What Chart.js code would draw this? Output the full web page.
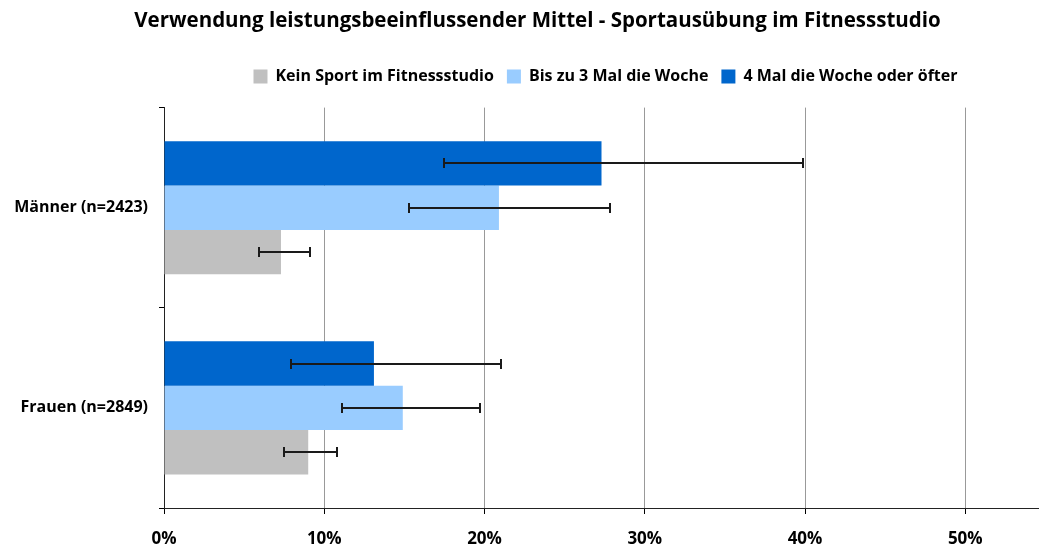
<!DOCTYPE html>
<html>
<head>
<meta charset="utf-8">
<script src="https://cdn.jsdelivr.net/npm/chart.js@4/dist/chart.umd.min.js"></script>
<style>
  html, body { margin: 0; padding: 0; background: #fff; }
  #wrap { width: 1039px; height: 550px; }
</style>
</head>
<body>
<div id="wrap"><canvas id="chart"></canvas></div>
<script>
// Data
const categories = ["Männer (n=2423)", "Frauen (n=2849)"];
const seriesNames = ["Kein Sport im Fitnessstudio", "Bis zu 3 Mal die Woche", "4 Mal die Woche oder öfter"];
const seriesColors = ["#c0c0c0", "#99ccff", "#0066cc"];

const keinSport = [7.3, 9.0];
const keinSportLow = [5.9, 7.5];
const keinSportHigh = [9.1, 10.8];

const bisDrei = [20.9, 14.9];
const bisDreiLow = [15.3, 11.1];
const bisDreiHigh = [27.8, 19.7];

const vierMal = [27.3, 13.1];
const vierMalLow = [17.5, 7.9];
const vierMalHigh = [39.9, 21.0];

const xTicks = [0, 10, 20, 30, 40, 50];

// Error bars drawn from the low/high arrays
const errorBars = {
    id: "errorBars",
    afterDatasetsDraw(chart) {
        const ctx = chart.ctx;
        const x = chart.scales.x;
        ctx.save();
        ctx.strokeStyle = "#1a1a1a";
        ctx.lineWidth = 2;
        chart.data.datasets.forEach(function (ds, i) {
            const meta = chart.getDatasetMeta(i);
            meta.data.forEach(function (bar, j) {
                const x1 = Math.round(x.getPixelForValue(ds.errLow[j]));
                const x2 = Math.round(x.getPixelForValue(ds.errHigh[j]));
                const y = Math.round(bar.y);
                ctx.beginPath();
                ctx.moveTo(x1, y);
                ctx.lineTo(x2, y);
                ctx.moveTo(x1, y - 5);
                ctx.lineTo(x1, y + 5);
                ctx.moveTo(x2, y - 5);
                ctx.lineTo(x2, y + 5);
                ctx.stroke();
            });
        });
        ctx.restore();
    },
};

// title a bit right of centre, legend further right, extra room below legend
const headPlace = {
    id: "headPlace",
    afterInit(chart) {
        const legend = chart.legend;
        const fit = legend.fit;
        legend.fit = function () {
            fit.call(this);
            if (this.isHorizontal()) this.height += 13;
        };
    },
    afterLayout(chart) {
        chart.legend.left += 79;
        chart.legend.right += 79;
        chart.titleBlock.left += 11;
        chart.titleBlock.right += 11;
    },
};

const fontFamily = "'Open Sans', 'Lato', sans-serif";

new Chart(document.getElementById("chart"), {
    type: "bar",
    data: {
        labels: categories,
        datasets: [
            {
                label: seriesNames[2],
                data: vierMal,
                errLow: vierMalLow,
                errHigh: vierMalHigh,
                backgroundColor: seriesColors[2],
            },
            {
                label: seriesNames[1],
                data: bisDrei,
                errLow: bisDreiLow,
                errHigh: bisDreiHigh,
                backgroundColor: seriesColors[1],
            },
            {
                label: seriesNames[0],
                data: keinSport,
                errLow: keinSportLow,
                errHigh: keinSportHigh,
                backgroundColor: seriesColors[0],
            },
        ],
    },
    options: {
        indexAxis: "y",
        responsive: true,
        maintainAspectRatio: false,
        animation: false,
        categoryPercentage: 0.665,
        barPercentage: 1.0,
        layout: { autoPadding: false, padding: { left: 14, right: 0, top: 6, bottom: 0 } },
        plugins: {
            title: {
                display: true,
                text: "Verwendung leistungsbeeinflussender Mittel - Sportausübung im Fitnessstudio",
                color: "#000",
                font: { family: fontFamily, size: 20.5, weight: "bold" },
                padding: { top: 3, bottom: 22 },
            },
            legend: {
                reverse: true,
                labels: {
                    color: "#000",
                    boxWidth: 14,
                    boxHeight: 14,
                    padding: 13,
                    font: { family: fontFamily, size: 16, weight: "bold" },
                },
            },
            tooltip: { enabled: false },
        },
        scales: {
            x: {
                min: 0,
                max: 54.6,
                afterBuildTicks: function (scale) {
                    scale.ticks = xTicks.map(function (v) { return { value: v }; });
                },
                afterFit: function (scale) { scale.height = 42; },
                ticks: {
                    color: "#000",
                    padding: 15,
                    font: { family: fontFamily, size: 17, weight: "bold" },
                    callback: function (v) { return v + "%"; },
                },
                grid: {
                    color: "#999",
                    lineWidth: 1,
                    tickLength: 6,
                    tickColor: "#000",
                },
                border: { color: "#222", width: 1 },
            },
            y: {
                afterFit: function (scale) { scale.width = 150; },
                ticks: {
                    color: "#000",
                    padding: 11,
                    font: { family: fontFamily, size: 16, weight: "bold" },
                },
                grid: {
                    drawOnChartArea: false,
                    tickLength: 5,
                    tickColor: "#000",
                },
                border: { color: "#222", width: 1 },
            },
        },
    },
    plugins: [errorBars, headPlace],
});
</script>
</body>
</html>
